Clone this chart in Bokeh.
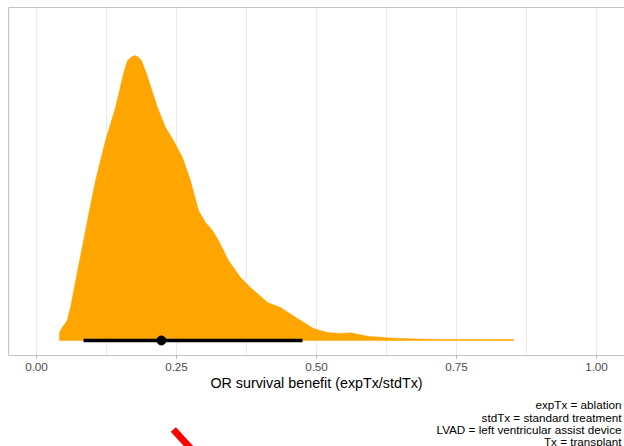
from bokeh.plotting import figure
from bokeh.layouts import column
from bokeh.models import FixedTicker, Span, Range1d
from bokeh.core.properties import value
from bokeh.embed import file_html
from bokeh.resources import INLINE

# --- data -------------------------------------------------------------------
slab_x = [0.0411, 0.0459, 0.0548, 0.0607, 0.0666, 0.0745, 0.0816, 0.0934,
          0.1054, 0.1232, 0.1411, 0.1554, 0.1625, 0.1696, 0.175, 0.1804,
          0.1875, 0.1964, 0.2161, 0.2304, 0.2446, 0.2607, 0.275, 0.2893,
          0.3018, 0.3143, 0.325, 0.3429, 0.3643, 0.3821, 0.4125, 0.4357,
          0.4661, 0.4946, 0.5196, 0.5429, 0.5607, 0.5911, 0.6375, 0.6982,
          0.8518]
slab_density = [0.154, 0.251, 0.386, 0.637, 0.965, 1.409, 1.795, 2.451,
                3.088, 3.860, 4.497, 5.153, 5.404, 5.47, 5.50, 5.48,
                5.404, 5.153, 4.497, 4.111, 3.860, 3.532, 3.088, 2.509,
                2.277, 2.123, 1.93, 1.544, 1.216, 1.023, 0.734, 0.637,
                0.425, 0.232, 0.154, 0.135, 0.149, 0.083, 0.044, 0.023,
                0.019]
interval_lower = [0.084]
interval_upper = [0.475]
point_median = [0.223]
x_ticks = [0.0, 0.25, 0.5, 0.75, 1.0]
x_tick_labels = ["0.00", "0.25", "0.50", "0.75", "1.00"]
x_minor_ticks = [0.125, 0.375, 0.625, 0.875]
x_label = "OR survival benefit (expTx/stdTx)"
captions = ["expTx = ablation", "stdTx = standard treatment",
            "LVAD = left ventricular assist device", "Tx = transplant"]

FONT = "Liberation Sans"
X0, X1 = -0.05, 1.05
Y0, Y1 = -0.2895, 6.426
W = 624
MAIN_H = 398
FOOT_H = 446 - MAIN_H

p = figure(width=W, height=MAIN_H, output_backend="svg", toolbar_location=None,
           x_range=Range1d(X0, X1), y_range=Range1d(Y0, Y1),
           min_border_left=8, min_border_right=0, min_border_top=7,
           min_border_bottom=MAIN_H - 355, outline_line_color=None,
           background_fill_color="white", border_fill_color="white")

# slab (density)
px = [slab_x[0]] + slab_x + [slab_x[-1]]
py = [0.0] + slab_density + [0.0]
p.patch(px, py, fill_color="#FFA500", line_color="#FFA500", line_width=0.5)

# point interval
p.segment(x0=interval_lower, y0=[0.0], x1=interval_upper, y1=[0.0],
          line_color="black", line_width=3.6)
p.scatter(point_median, [0.0], size=9, color="black")

# panel border (left, top, bottom)
for loc, dim in [(X0, "height"), (Y1, "width"), (Y0, "width")]:
    p.add_layout(Span(location=loc, dimension=dim, line_color="#8a8a8a",
                      line_width=1.2))

# axes & grid
p.yaxis.visible = False
p.ygrid.visible = False
ax = p.xaxis[0]
ax.ticker = FixedTicker(ticks=x_ticks, minor_ticks=x_minor_ticks)
ax.major_label_overrides = {t: l for t, l in zip(x_ticks, x_tick_labels)}
ax.axis_line_color = None
ax.major_tick_line_color = "#b3b3b3"
ax.major_tick_out = 3
ax.major_tick_in = 0
ax.minor_tick_line_color = None
ax.major_label_text_font = FONT
ax.major_label_text_font_size = "11.7px"
ax.major_label_text_color = "#4D4D4D"
ax.major_label_standoff = 3
ax.axis_label = x_label
ax.axis_label_text_font = FONT
ax.axis_label_text_font_size = "14.3px"
ax.axis_label_text_font_style = "normal"
ax.axis_label_text_color = "black"
ax.axis_label_standoff = 1
p.xgrid.grid_line_color = "#ebebeb"
p.xgrid.grid_line_width = 1.1
p.xgrid.minor_grid_line_color = "#ebebeb"
p.xgrid.minor_grid_line_width = 1.1

# --- footer: captions and the red pointer fragment --------------------------
f = figure(width=W, height=FOOT_H, output_backend="svg", toolbar_location=None,
           x_range=Range1d(0, W), y_range=Range1d(0, FOOT_H),
           min_border=0, outline_line_color=None,
           background_fill_color="white", border_fill_color="white")
f.axis.visible = False
f.grid.visible = False

cap_y = [FOOT_H - (v - MAIN_H) for v in (404, 417, 429, 441)]
f.text(x=[621] * len(captions), y=cap_y, text=captions, text_align="right",
       text_baseline="middle", text_font=value(FONT), text_font_size="11.7px",
       text_color="black")
f.segment(x0=[167], y0=[FOOT_H - (429 - MAIN_H)], x1=[192],
          y1=[FOOT_H - (456 - MAIN_H)], line_color="red", line_width=7)

layout = column(p, f, spacing=0)
open("out.html", "w").write(file_html(layout, INLINE))
